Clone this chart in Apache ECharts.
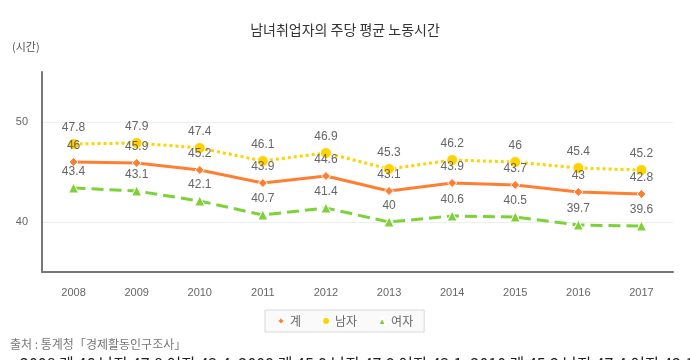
<!DOCTYPE html>
<html><head><meta charset="utf-8">
<script src="https://cdn.jsdelivr.net/npm/echarts@6/dist/echarts.min.js"></script>
<style>html,body{margin:0;padding:0;background:#fff}#c{width:690px;height:360px}</style>
</head><body><div id="c"></div>
<script>
const years = ['2008','2009','2010','2011','2012','2013','2014','2015','2016','2017'];
const total = [46, 45.9, 45.2, 43.9, 44.6, 43.1, 43.9, 43.7, 43, 42.8];
const male = [47.8, 47.9, 47.4, 46.1, 46.9, 45.3, 46.2, 46, 45.4, 45.2];
const female = [43.4, 43.1, 42.1, 40.7, 41.4, 40, 40.6, 40.5, 39.7, 39.6];
const seriesNames = ['계', '남자', '여자'];
const yTicks = [40, 50];

const FONT = "'Liberation Sans','Noto Sans CJK KR',sans-serif";
const colors = ['#ff7f32', '#ffd200', '#7dd23a'];

let summary = years.map((y, i) => `${y} 계 ${total[i]} 남자 ${male[i]} 여자 ${female[i]}`).join(', ');

const chart = echarts.init(document.getElementById('c'));
function mk(name, data, color, symbol, size, type, dist) {
  return {
    name, type: 'line', data, symbol, symbolSize: size,
    itemStyle: { color, borderColor: '#fff', borderWidth: 1 },
    lineStyle: { color, width: 3, type },
    label: { show: true, position: 'top', distance: dist, color: '#666', fontSize: 12, fontFamily: FONT },
    emphasis: { disabled: true }, z: 3
  };
}
chart.setOption({
  animation: false,
  textStyle: { fontFamily: FONT },
  title: {
    text: '남녀취업자의 주당 평균 노동시간', left: 'center', top: 18,
    textStyle: { fontSize: 14, fontWeight: 'normal', color: '#333', fontFamily: "'Noto Sans CJK KR',sans-serif" }
  },
  grid: { left: 42, right: 17, top: 72, bottom: 88 },
  xAxis: {
    type: 'category', data: years, boundaryGap: true,
    axisLine: { show: true, lineStyle: { color: '#777', width: 2 } },
    axisTick: { show: false },
    axisLabel: { color: '#666', fontSize: 11, margin: 15, fontFamily: FONT }
  },
  yAxis: {
    type: 'value', min: 35, max: 55, interval: 5,
    axisLine: { show: true, lineStyle: { color: '#777', width: 2 } },
    axisTick: { show: false },
    axisLabel: { color: '#666', fontSize: 11, margin: 14, fontFamily: FONT,
      formatter: v => yTicks.includes(v) ? String(v) : '' },
    splitLine: { show: true, lineStyle: { color: ['transparent', '#eeeeee'], width: 1 } }
  },
  legend: {
    data: [
      { name: '계', icon: 'diamond' },
      { name: '남자', icon: 'circle' },
      { name: '여자', icon: 'triangle' }
    ],
    left: 265, top: 310, itemWidth: 8, itemHeight: 8, itemGap: 20,
    borderColor: '#d8d8d8', borderWidth: 1, padding: [5, 11], backgroundColor: '#fafafa',
    textStyle: { color: '#666', fontSize: 12, fontFamily: "'Noto Sans CJK KR',sans-serif" }
  },
  graphic: [
    { type: 'text', left: 12, top: 41, style: { text: '(시간)', fill: '#555', font: "11px 'Noto Sans CJK KR'" } },
    { type: 'text', left: 10, top: 338, style: { text: '출처 : 통계청「경제활동인구조사」', fill: '#777', font: "12px 'Noto Sans CJK KR'" } },
    { type: 'text', left: 20, top: 356, style: { text: summary, fill: '#222', font: "16px 'Noto Sans CJK KR'" } }
  ],
  series: [
    mk(seriesNames[0], total, colors[0], 'diamond', 9, 'solid', 5),
    mk(seriesNames[1], male, colors[1], 'circle', 11, 'dotted', 4),
    mk(seriesNames[2], female, colors[2], 'triangle', 10, 'dashed', 5)
  ]
});
</script></body></html>
